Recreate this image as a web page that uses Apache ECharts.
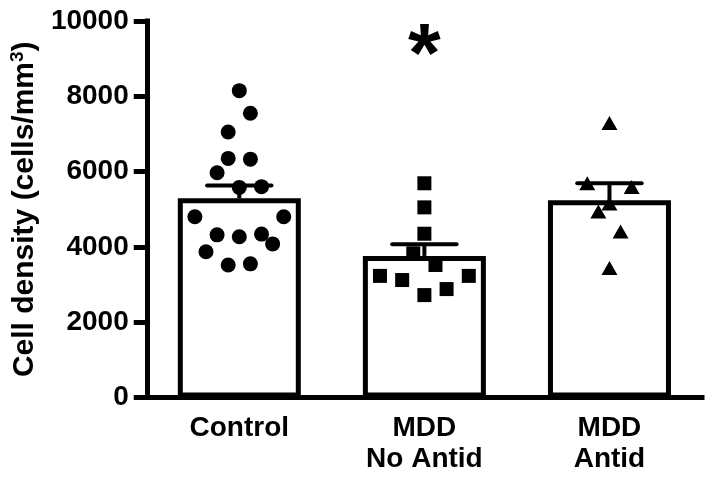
<!DOCTYPE html>
<html>
<head>
<meta charset="utf-8">
<script src="https://cdn.jsdelivr.net/npm/echarts@6/dist/echarts.min.js"></script>
<style>
  html, body { margin: 0; padding: 0; background: #fff; }
  #cell-density { width: 714px; height: 482px; }
</style>
</head>
<body>
<div id="cell-density"></div>
<script>
// groups on the x axis
const categories = ['Control', 'MDD\nNo Antid', 'MDD\nAntid'];
// bar height = group mean, error bar = SEM
const groupMeans = [5290, 3760, 5240];
const groupSem = [340, 310, 450];
// individual points per group
const controlValues = [8150, 7550, 7050, 6350, 6330, 5970, 5580, 5600, 4800, 4800, 4320, 4270, 4340, 4080, 3870, 3520, 3550];
const mddNoAntidValues = [5690, 5050, 4350, 3830, 3520, 3230, 3120, 3230, 2880, 2720];
const mddAntidValues = [7290, 5690, 5590, 5150, 4940, 4410, 3440];
// horizontal spread of the dots (in dot half-widths), same order as the values
const controlSpread = [0, 1, -1, -1, 1, -2, 0, 2, -4, 4, -2, 0, 2, 3, -3, -1, 1];
const mddNoAntidSpread = [0, 0, 0, -1, 1, -4, -2, 4, 2, 0];
const mddAntidSpread = [0, -2, 2, 0, -1, 1, 0];
// significance marks
const sigMarks = ['', '*', ''];
const yTicks = [0, 2000, 4000, 6000, 8000, 10000];

const FONT = 'Liberation Sans';
const STEP = 0.06; // one dot half-width in category units

const chart = echarts.init(document.getElementById('cell-density'));

const toPoints = (values, spread, gi) => values.map((v, i) => [gi + spread[i] * STEP, v]);

chart.setOption({
    animation: false,
    grid: { left: 143, right: 12, top: 21, bottom: 84.5 },
    xAxis: [
        {
            type: 'category',
            data: categories,
            axisLine: { lineStyle: { color: '#000', width: 5, cap: 'square' } },
            axisTick: { alignWithLabel: true, length: 12, lineStyle: { color: '#000', width: 5 } },
            axisLabel: {
                color: '#000',
                fontFamily: FONT,
                fontWeight: 'bold',
                fontSize: 28,
                lineHeight: 31,
                margin: 15,
            },
        },
        {
            type: 'value',
            min: -0.5,
            max: 2.5,
            show: false,
        },
    ],
    yAxis: {
        type: 'value',
        min: 0,
        max: 10000,
        interval: 2000,
        splitLine: { show: false },
        axisLine: { show: true, onZero: false, lineStyle: { color: '#000', width: 5, cap: 'square' } },
        axisTick: { show: true, length: 13, lineStyle: { color: '#000', width: 5 } },
        axisLabel: {
            color: '#000',
            fontFamily: FONT,
            fontWeight: 'bold',
            fontSize: 28,
            margin: 18,
            formatter: (v) => (yTicks.indexOf(v) >= 0 ? String(v) : ''),
        },
        name: '{n|Cell density (cells/mm}{s|3}{n|)}',
        nameLocation: 'middle',
        nameGap: 95,
        nameTextStyle: {
            color: '#000',
            fontFamily: FONT,
            fontWeight: 'bold',
            fontSize: 30,
            rich: {
                n: { fontFamily: FONT, fontWeight: 'bold', fontSize: 30, color: '#000', lineHeight: 34 },
                s: { fontFamily: FONT, fontWeight: 'bold', fontSize: 19, color: '#000', verticalAlign: 'top', lineHeight: 34, padding: [0, 0, 12, 0] },
            },
        },
    },
    series: [
        {
            type: 'bar',
            data: groupMeans,
            barWidth: 123,
            itemStyle: { color: '#fff', borderColor: '#000', borderWidth: 5 },
            silent: true,
        },
        {
            type: 'custom',
            data: groupMeans.map((m, i) => [i, m, groupSem[i]]),
            encode: { x: 0, y: 1 },
            renderItem: (params, api) => {
                const x = api.value(0);
                const m = api.value(1);
                const s = api.value(2);
                const base = api.coord([x, m]);
                const top = api.coord([x, m + s]);
                const half = api.size([1, 0])[0] * 0.174;
                return {
                    type: 'group',
                    children: [
                        {
                            type: 'line',
                            shape: { x1: base[0], y1: base[1], x2: top[0], y2: top[1] },
                            style: { stroke: '#000', lineWidth: 4 },
                        },
                        {
                            type: 'line',
                            shape: { x1: top[0] - half, y1: top[1], x2: top[0] + half, y2: top[1] },
                            style: { stroke: '#000', lineWidth: 4, lineCap: 'round' },
                        },
                    ],
                };
            },
        },
        {
            type: 'scatter',
            xAxisIndex: 1,
            symbol: 'circle',
            symbolSize: 15,
            itemStyle: { color: '#000', opacity: 1 },
            data: toPoints(controlValues, controlSpread, 0),
        },
        {
            type: 'scatter',
            xAxisIndex: 1,
            symbol: 'rect',
            symbolSize: 14,
            itemStyle: { color: '#000', opacity: 1 },
            data: toPoints(mddNoAntidValues, mddNoAntidSpread, 1),
        },
        {
            type: 'scatter',
            xAxisIndex: 1,
            symbol: 'triangle',
            symbolSize: [16, 14],
            itemStyle: { color: '#000', opacity: 1 },
            data: toPoints(mddAntidValues, mddAntidSpread, 2),
        },
        {
            type: 'scatter',
            symbolSize: 0,
            silent: true,
            itemStyle: { opacity: 1 },
            data: sigMarks.map((s, i) => (s ? { value: [i, 9000], label: { formatter: s } } : null)).filter(Boolean),
            label: {
                show: true,
                position: 'inside',
                color: '#000',
                fontFamily: FONT,
                fontWeight: 'bold',
                fontSize: 84,
            },
        },
    ],
});
</script>
</body>
</html>
